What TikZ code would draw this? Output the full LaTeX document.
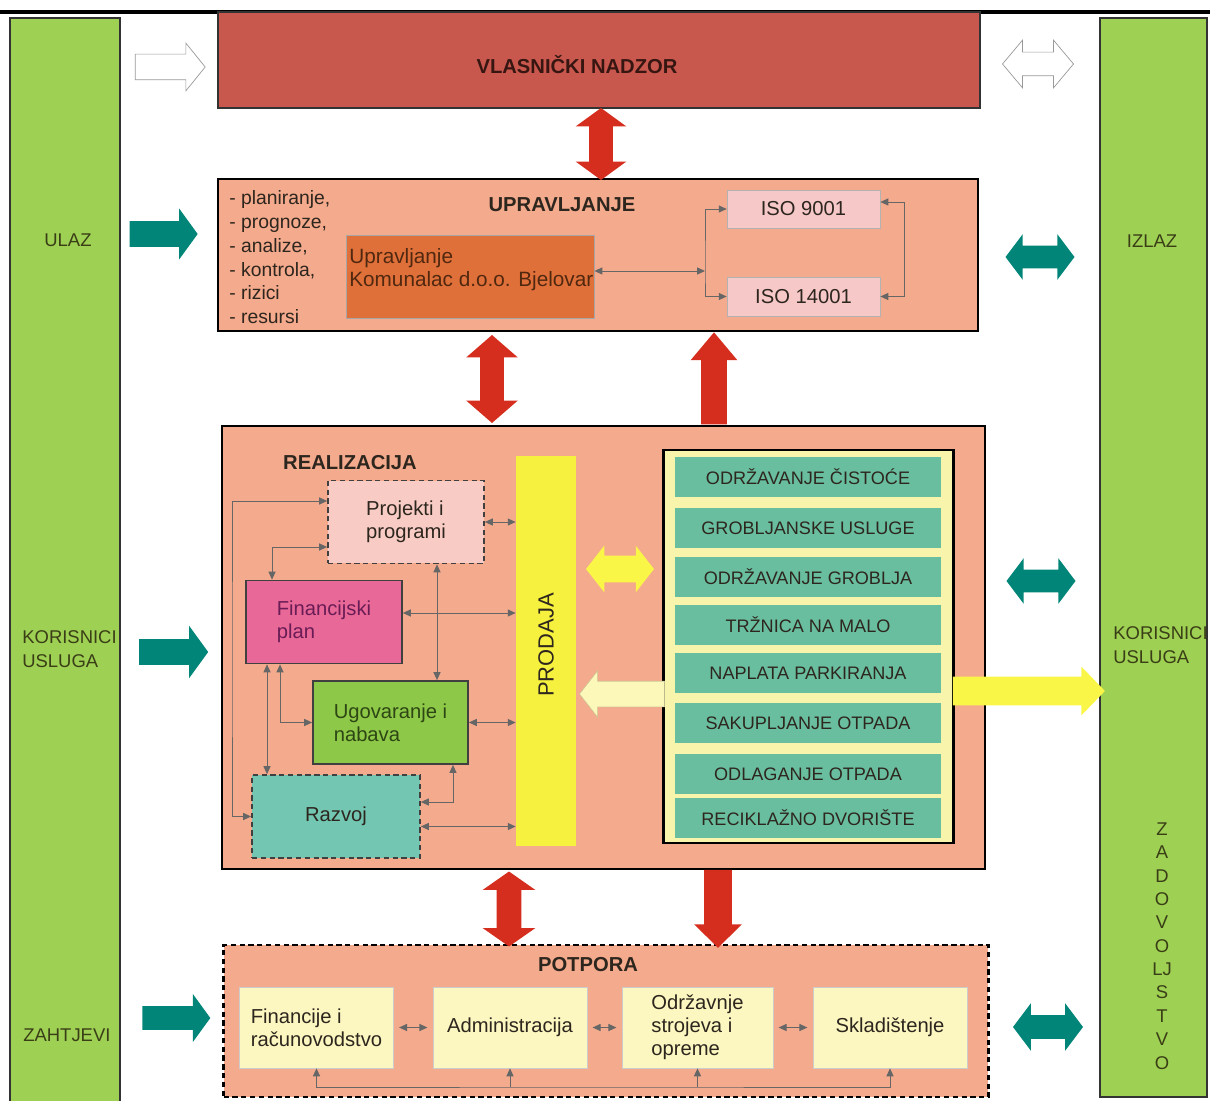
\documentclass[tikz,border=0pt]{standalone}
\usepackage{fontspec}
\setmainfont{Liberation Sans}
\usetikzlibrary{arrows.meta, shapes.arrows}
\definecolor{bargreen}{RGB}{158,208,84}
\definecolor{bartext}{RGB}{58,62,22}
\definecolor{owner}{RGB}{200,88,78}
\definecolor{ownertext}{RGB}{55,22,18}
\definecolor{salmon}{RGB}{244,170,140}
\definecolor{komorange}{RGB}{224,112,58}
\definecolor{komtext}{RGB}{80,40,15}
\definecolor{isopink}{RGB}{246,200,200}
\definecolor{projpink}{RGB}{248,204,196}
\definecolor{finpink}{RGB}{232,104,152}
\definecolor{fintext}{RGB}{105,28,85}
\definecolor{ugogreen}{RGB}{142,200,72}
\definecolor{ugotext}{RGB}{45,70,20}
\definecolor{razteal}{RGB}{114,198,178}
\definecolor{prodyellow}{RGB}{246,240,62}
\definecolor{listyellow}{RGB}{248,244,172}
\definecolor{itemteal}{RGB}{106,190,160}
\definecolor{supyellow}{RGB}{252,246,192}
\definecolor{tealarrow}{RGB}{0,133,120}
\definecolor{redarrow}{RGB}{214,46,30}
\definecolor{brightyellow}{RGB}{250,246,72}
\definecolor{paleyellow}{RGB}{252,248,186}
\definecolor{ink}{RGB}{45,38,30}

\begin{document}
\begin{tikzpicture}[x=0.02cm, y=-0.02cm, >={Triangle[length=4.5pt,width=4pt]},
        font=\fontsize{11.5}{13}\selectfont, text=ink,
        bar/.style={fill=bargreen, draw=black!80, line width=0.8pt, inner sep=0pt},
        bartext/.style={font=\fontsize{10.5}{13.6}\selectfont, text=bartext, inner sep=0pt},
        panel/.style={fill=salmon, draw=black, line width=1.6pt, inner sep=0pt},
        head/.style={font=\fontsize{11.5}{13}\selectfont\bfseries, inner sep=0pt},
        box/.style={draw=black!75, line width=1pt, inner sep=0pt, minimum width=3.12cm, minimum height=1.66cm, align=left},
        item/.style={fill=itemteal, inner sep=0pt, minimum width=5.34cm, minimum height=0.8cm, font=\fontsize{10.3}{12}\selectfont},
        supbox/.style={fill=supyellow, draw=black!20, inner sep=0pt, minimum width=3.08cm, minimum height=1.62cm, align=left},
        con/.style={draw=black!60, line width=0.5pt, <->},
        fat/.style={single arrow, inner xsep=0pt, single arrow head indent=0pt},
        fatdbl/.style={double arrow, inner xsep=0pt, double arrow head indent=0pt}]
        \useasboundingbox (0,0) rectangle (1210,1101);
        \node[bar, minimum width=2.2cm, minimum height=21.8cm] (inbar) at (65,563) {};
        \node[bar, minimum width=2.14cm, minimum height=21.58cm] (outbar) at (1153.5,557.5) {};
        \node[bartext] (ulaz) at (68,240) {ULAZ};
        \node[bartext, anchor=west, align=left] (korin) at (22,649) {KORISNICI\\USLUGA};
        \node[bartext, anchor=west] (zahtjevi) at (23,1035) {ZAHTJEVI};
        \node[bartext] (izlaz) at (1152,241) {IZLAZ};
        \node[bartext, anchor=west, align=left] (korout) at (1113,645) {KORISNICI\\USLUGA};
        \node[bartext, align=center, font=\fontsize{10.5}{13.3}\selectfont] (zadovoljstvo) at (1162,946) {Z\\A\\D\\O\\V\\O\\LJ\\S\\T\\V\\O};
        \draw[line width=2.2pt] (0,12) -- (1210,12);

        \node[fill=owner, draw=black!80, line width=1.2pt, inner sep=0pt, minimum width=15.24cm, minimum height=1.92cm] (vlas) at (599,60) {};
        \node[head, text=ownertext] (vlastitle) at (577,65) {VLASNIČKI NADZOR};

        \node[panel, minimum width=15.2cm, minimum height=3.04cm] (upr) at (598,255) {};
        \node[head] (uprtitle) at (562,205) {UPRAVLJANJE};
        \node[anchor=north west, align=left, inner sep=0pt, font=\fontsize{11}{13.6}\selectfont] (uprlist) at (229,190) {- planiranje,\\- prognoze,\\- analize,\\- kontrola,\\- rizici\\- resursi};
        \node[fill=komorange, draw=black!35, line width=0.5pt, inner sep=0pt, minimum width=4.96cm, minimum height=1.66cm] (kom) at (470,276.5) {};
        \node[anchor=north west, align=left, inner sep=0pt, text=komtext, font=\fontsize{11.8}{13}\selectfont] (komtext) at (349,248) {Upravljanje\\Komunalac d.o.o. Bjelovar};
        \node[fill=isopink, draw=black!30, inner sep=0pt, minimum width=3.06cm, minimum height=0.76cm] (iso1) at (803.5,209) {ISO 9001};
        \node[fill=isopink, draw=black!30, inner sep=0pt, minimum width=3.06cm, minimum height=0.78cm] (iso2) at (803.5,296.5) {ISO 14001};
        \coordinate (isoj) at (705,271);
        \coordinate (isor) at (904,250);
        \draw[con] (kom.east |- isoj) -- (isoj);
        \draw[con] (iso1.west) -| (isoj) |- (iso2.west);
        \draw[con] ([yshift=.14cm]iso1.east) -| (isor) |- (iso2.east);

        \node[panel, minimum width=15.26cm, minimum height=8.86cm] (real) at (603.5,647.5) {};
        \node[head] (realtitle) at (350,463) {REALIZACIJA};
        \node[box, fill=projpink, densely dashed] (proj) at (406,522) {Projekti i\\programi};
        \node[box, fill=finpink, text=fintext] (fin) at (324,622) {Financijski\\plan};
        \node[box, fill=ugogreen, text=ugotext, minimum width=3.1cm] (ugo) at (390.5,722.5) {Ugovaranje i\\nabava};
        \node[box, fill=razteal, densely dashed, minimum width=3.36cm] (raz) at (336,816.5) {Razvoj};
        \node[fill=prodyellow, inner sep=0pt, minimum width=1.2cm, minimum height=7.8cm] (prod) at (546,651) {};
        \node[rotate=90, inner sep=0pt, font=\fontsize{12.5}{14}\selectfont] (prodtext) at (546,645) {PRODAJA};
        \node[fill=listyellow, draw=black, line width=1.2pt, inner sep=0pt, minimum width=5.8cm, minimum height=7.86cm] (usluge) at (808.5,646.5) {};
        \foreach \y/\t [count=\i] in {477/ODRŽAVANJE ČISTOĆE, 528/GROBLJANSKE USLUGE, 577/ODRŽAVANJE GROBLJA,
                625/TRŽNICA NA MALO, 673/NAPLATA PARKIRANJA, 723/SAKUPLJANJE OTPADA, 774/ODLAGANJE OTPADA, 818/RECIKLAŽNO DVORIŠTE}
            \node[item] (usl\i) at (808,\y) {\t};

        \coordinate (fp) at ([yshift=.18cm]fin.east);
        \coordinate (rp) at ([yshift=-.2cm]raz.east);
        \coordinate (pu) at ([xshift=.62cm]proj.south);
        \coordinate (lp) at ([yshift=.42cm]proj.west);
        \coordinate (pf) at ([yshift=-.5cm]proj.west);
        \coordinate (ff) at ([xshift=-1.04cm]fin.north);
        \coordinate (fr) at ([xshift=-1.14cm]fin.south);
        \coordinate (fu) at ([xshift=-.88cm]fin.south);
        \coordinate (ur) at ([xshift=1.25cm]ugo.south);
        \coordinate (re) at ([yshift=.29cm]raz.east);
        \coordinate (lft) at (232,660);
        \draw[con] (proj.east) -- (proj.east -| prod.west);
        \draw[con] (fp) -- (fp -| prod.west);
        \draw[con] (ugo.east) -- (ugo.east -| prod.west);
        \draw[con] (rp) -- (rp -| prod.west);
        \draw[con] (pu) -- (pu |- ugo.north);
        \draw[con] (lp) -| (lft) |- (raz.west);
        \draw[con] (pf) -| (ff);
        \draw[con] (fr) -- (fr |- raz.north);
        \draw[con] (fu) |- (ugo.west);
        \draw[con] (ur) |- (re);

        \node[panel, densely dashed, minimum width=15.3cm, minimum height=3.04cm] (potp) at (606,1021) {};
        \node[head] (potptitle) at (588,965) {POTPORA};
        \node[supbox] (fir) at (316.5,1027.5) {Financije i\\računovodstvo};
        \node[supbox] (adm) at (510,1027.5) {Administracija};
        \node[supbox, minimum width=3.02cm] (odr) at (697.5,1027.5) {Održavnje\\strojeva i\\opreme};
        \node[supbox] (skl) at (890,1027.5) {Skladištenje};
        \coordinate (potbase) at (600,1087);
        \draw[con, shorten <=3pt, shorten >=3pt] (fir.east) -- (adm.west);
        \draw[con, shorten <=3pt, shorten >=3pt] (adm.east) -- (odr.west);
        \draw[con, shorten <=3pt, shorten >=3pt] (odr.east) -- (skl.west);
        \draw[con] (fir.south) |- (potbase) -| (skl.south);
        \draw[con, <-] (adm.south) -- (adm.south |- potbase);
        \draw[con, <-] (odr.south) -- (odr.south |- potbase);

        \node[fat, fill=white, draw=black!40, line width=0.4pt, inner ysep=.25cm, minimum height=1.4cm, single arrow head extend=0.22cm, single arrow tip angle=102] (ownin) at (165,67) {};
        \node[fatdbl, fill=white, draw=black!40, line width=0.4pt, inner ysep=.23cm, minimum height=1.42cm, double arrow head extend=0.24cm, double arrow tip angle=100] (ownout) at (1038,64) {};
        \node[fatdbl, fill=redarrow, rotate=90, inner ysep=.23cm, minimum height=1.44cm, double arrow head extend=0.27cm, double arrow tip angle=108] (redtop) at (601,144) {};
        \node[fatdbl, fill=redarrow, rotate=90, inner ysep=.23cm, minimum height=1.76cm, double arrow head extend=0.28cm, double arrow tip angle=98] (redmid) at (492,379) {};
        \node[fat, fill=redarrow, rotate=90, inner ysep=.25cm, minimum height=1.84cm, single arrow head extend=0.21cm, single arrow tip angle=80] (redup) at (714,386) {};
        \node[fatdbl, fill=redarrow, rotate=90, inner ysep=.24cm, minimum height=1.5cm, double arrow head extend=0.28cm, double arrow tip angle=110] (redlow) at (509,909) {};
        \node[fat, fill=redarrow, rotate=-90, inner ysep=.27cm, minimum height=1.56cm, single arrow head extend=0.2cm, single arrow tip angle=91] (reddown) at (718,902) {};
        \node[fat, fill=tealarrow, inner ysep=.25cm, minimum height=1.36cm, single arrow head extend=0.25cm, single arrow tip angle=108] (ulazarr) at (159,234) {};
        \node[fat, fill=tealarrow, inner ysep=.25cm, minimum height=1.38cm, single arrow head extend=0.27cm, single arrow tip angle=108] (korinarr) at (169,652) {};
        \node[fat, fill=tealarrow, inner ysep=.23cm, minimum height=1.36cm, single arrow head extend=0.24cm, single arrow tip angle=108] (zahtarr) at (172,1018) {};
        \node[fatdbl, fill=tealarrow, inner ysep=.22cm, minimum height=1.38cm, double arrow head extend=0.23cm, double arrow tip angle=106] (izlazarr) at (1040,257) {};
        \node[fatdbl, fill=tealarrow, inner ysep=.22cm, minimum height=1.38cm, double arrow head extend=0.23cm, double arrow tip angle=106] (koroutarr) at (1041,581) {};
        \node[fatdbl, fill=tealarrow, inner ysep=.23cm, minimum height=1.4cm, double arrow head extend=0.24cm, double arrow tip angle=106] (potoutarr) at (1048,1027) {};
        \node[fatdbl, fill=brightyellow, inner ysep=.26cm, minimum height=1.36cm, double arrow head extend=0.2cm, double arrow tip angle=104] (prodarr) at (620,569) {};
        \node[fat, fill=paleyellow, draw=paleyellow!80!black, line width=0.3pt, rotate=180, inner ysep=.25cm, minimum height=1.7cm, single arrow head extend=0.21cm, single arrow tip angle=104] (uslarr) at (627,694) {};
        \node[fat, fill=brightyellow, inner ysep=.28cm, minimum height=3.04cm, single arrow head extend=0.2cm, single arrow tip angle=92] (izarr) at (1022,691) {};
\end{tikzpicture}
\end{document}
